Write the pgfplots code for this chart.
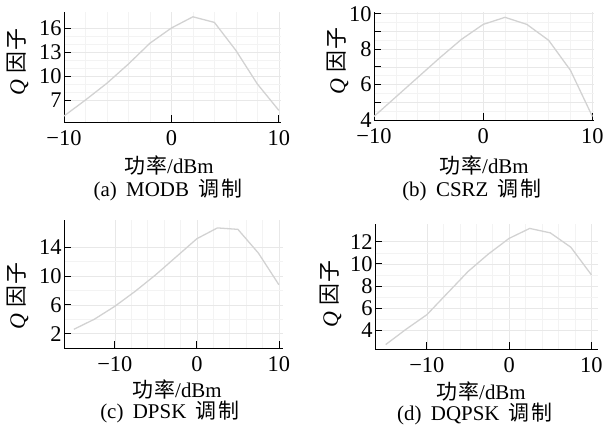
\documentclass[border=0pt]{standalone}
\usepackage{pgfplots}
\pgfplotsset{compat=1.18}
\usepackage{fontspec}
\setmainfont{Liberation Serif}
\newfontfamily\cjk{Noto Sans CJK SC}
\definecolor{curve}{HTML}{D2D2D2}
\definecolor{gmaj}{HTML}{E8E8E8}
\definecolor{gmin}{HTML}{F3F3F3}

\pgfplotsset{
  qax/.style={
    scale only axis, anchor=south west,
    axis lines=left, axis line style={-, black, line width=0.8pt},
    tick align=inside, major tick length=7bp, minor tick length=0pt,
    tick style={black, line width=0.8pt},
    grid=both, major grid style={gmaj, line width=0.6pt}, minor grid style={gmin, line width=0.5pt},
    ticklabel style={font=\fontsize{22.5}{22.5}\selectfont},
    xticklabel style={yshift=-5bp},
    yticklabel style={xshift=1bp},
    minor x tick num=4,
    clip=false,
  },
  qline/.style={curve, line width=1.3pt, mark=none},
}
\newcommand{\xl}{\fontsize{21}{21}\selectfont{\cjk 功\hspace{0.05em}率}/dBm}
\newcommand{\yl}{\fontsize{22}{22}\selectfont\textit{Q}\hspace{0.3em}{\cjk 因\hspace{0.05em}子}}
\newcommand{\subcap}[2]{\fontsize{21}{21}\selectfont(#1)\hspace{0.45em}#2\hspace{0.45em}{\cjk 调\hspace{0.1em}制}}

\begin{document}
\begin{tikzpicture}
\path[use as bounding box] (0,0) rectangle (613bp,-428bp);

% (a) MODB
\begin{axis}[qax, at={(64bp,-122bp)}, width=217bp, height=110bp,
  xmin=-10, xmax=10.2, ymin=4.25, ymax=18,
  xtick={-10,0,10}, xticklabels={−10,0,10},
  ytick={7,10,13,16}, yticklabels={7,10,13,16}, minor y tick num=2]
\addplot[qline] coordinates {(-10,5.0)(-8,7.0)(-6,9.1)(-4,11.5)(-2,14.1)(0,16.0)(2,17.4)(4,16.7)(6,13.2)(8,9.0)(10,5.7)};
\end{axis}

% (b) CSRZ
\begin{axis}[qax, at={(374bp,-120bp)}, width=220bp, height=108bp,
  xmin=-10, xmax=10.15, ymin=4, ymax=10.1,
  xtick={-10,0,10}, xticklabels={−10,0,10},
  ytick={4,5,6,7,8,9,10}, yticklabels={4,,6,,8,,10}, minor y tick num=1]
\addplot[qline] coordinates {(-10,4.2)(-8,5.3)(-6,6.4)(-4,7.5)(-2,8.55)(0,9.4)(2,9.8)(4,9.4)(6,8.5)(8,6.8)(10,4.2)};
\end{axis}

% (c) DPSK
\begin{axis}[qax, at={(64bp,-348bp)}, width=219bp, height=128bp,
  xmin=-16.2, xmax=10.5, ymin=0, ymax=17.8,
  xtick={-10,0,10}, xticklabels={−10,0,10},
  ytick={2,6,10,14}, yticklabels={2,6,10,14}, minor y tick num=1]
\addplot[qline] coordinates {(-15,2.6)(-12.5,4.0)(-10,5.8)(-7.5,7.9)(-5,10.2)(-2.5,12.7)(0,15.2)(2.5,16.7)(5,16.5)(7.5,13.2)(10,8.8)};
\end{axis}

% (d) DQPSK
\begin{axis}[qax, at={(375bp,-349bp)}, width=223bp, height=125bp,
  xmin=-16.3, xmax=10.8, ymin=2.3, ymax=13.6,
  xtick={-10,0,10}, xticklabels={−10,0,10},
  ytick={4,6,8,10,12}, yticklabels={4,6,8,10,12}, minor y tick num=1]
\addplot[qline] coordinates {(-15,2.7)(-12.5,4.1)(-10,5.4)(-7.5,7.35)(-5,9.3)(-2.5,10.9)(0,12.3)(2.5,13.2)(5,12.8)(7.5,11.5)(10,9.0)};
\end{axis}

% axis labels and captions
\node at (169bp,-165bp) {\xl};
\node at (484bp,-165bp) {\xl};
\node at (177bp,-389bp) {\xl};
\node at (481bp,-391bp) {\xl};
\node[rotate=90] at (18bp,-62bp) {\yl};
\node[rotate=90] at (338bp,-61bp) {\yl};
\node[rotate=90] at (18bp,-296bp) {\yl};
\node[rotate=90] at (331bp,-294bp) {\yl};
\node at (168bp,-190bp) {\subcap{a}{MODB}};
\node at (472bp,-190bp) {\subcap{b}{CSRZ}};
\node at (170bp,-412bp) {\subcap{c}{DPSK}};
\node at (475bp,-414bp) {\subcap{d}{DQPSK}};
\end{tikzpicture}
\end{document}
